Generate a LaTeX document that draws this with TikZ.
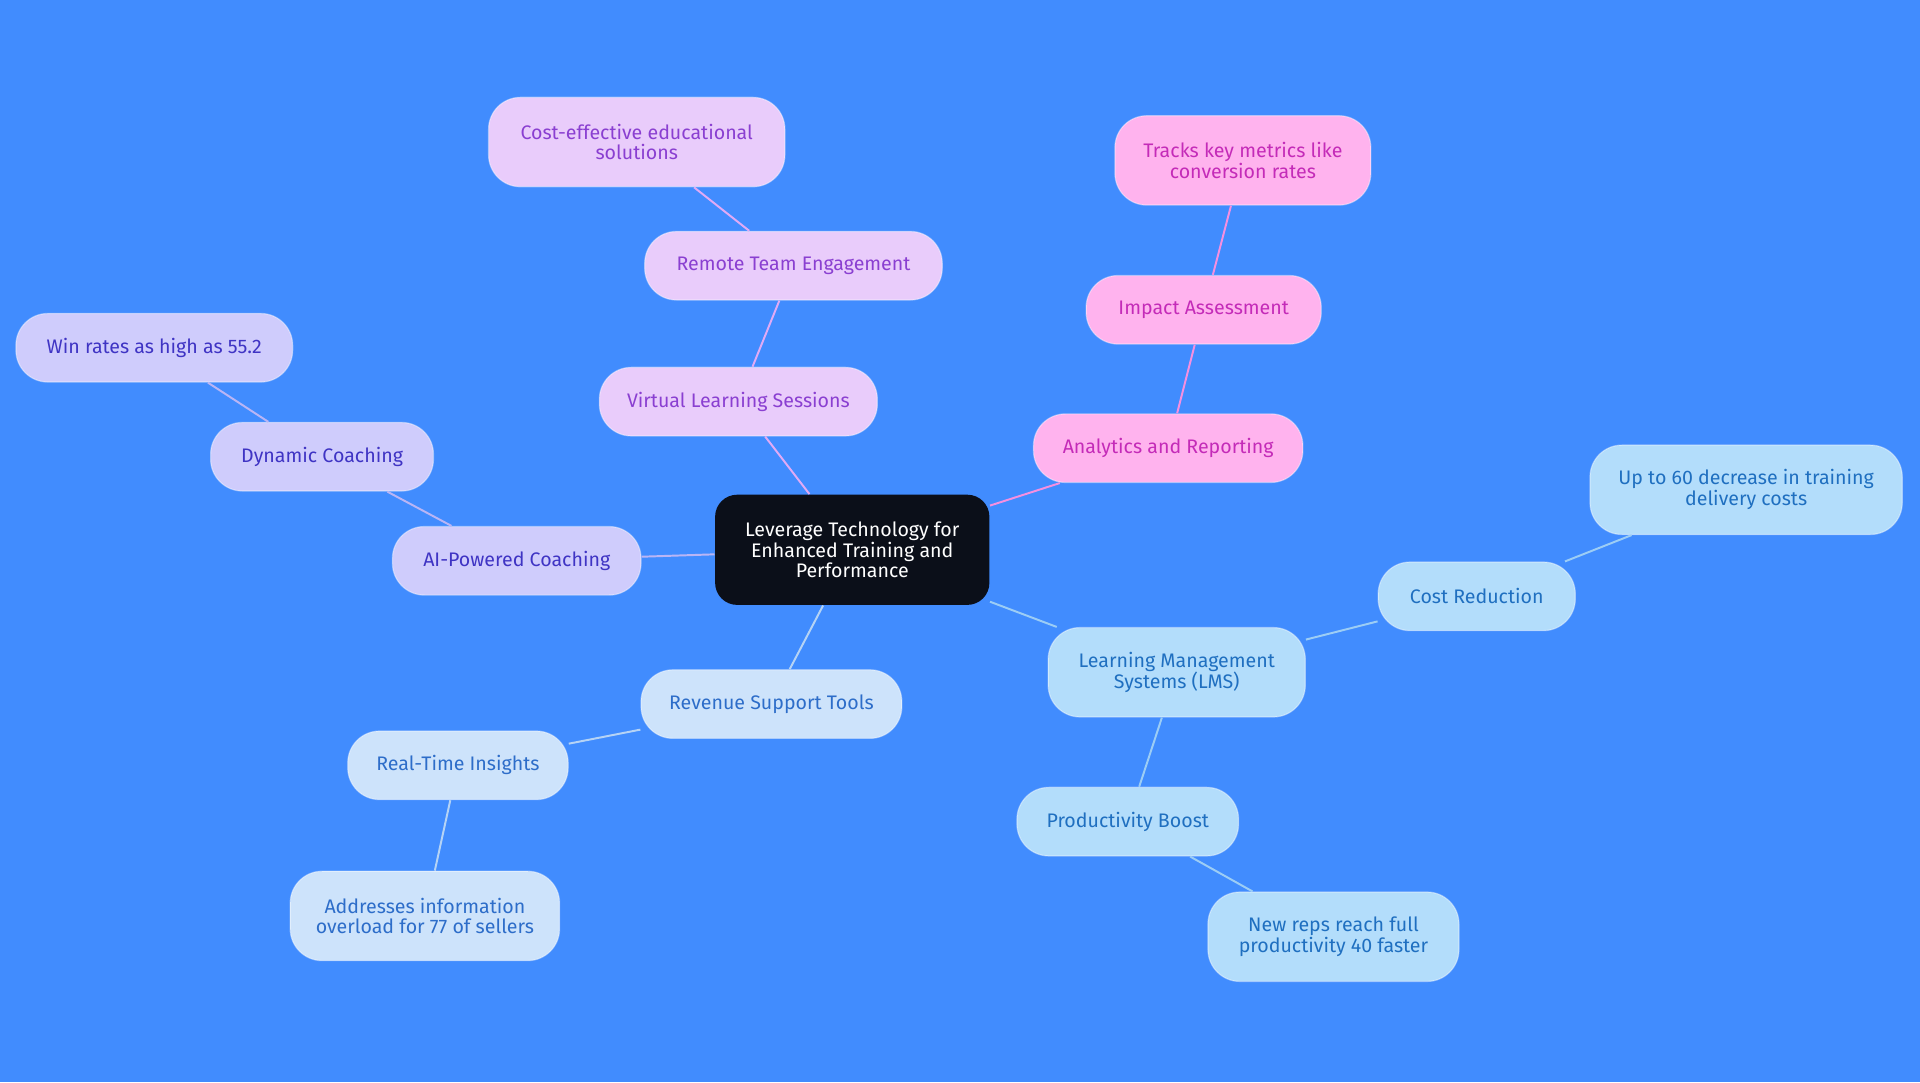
\documentclass[tikz,border=0pt]{standalone}
\usepackage{fontspec}
\setmainfont{Fira Sans}
\definecolor{bg}{HTML}{418CFE}
\definecolor{pF}{HTML}{E9CCFB}\definecolor{pT}{HTML}{8A3FD1}\definecolor{pE}{HTML}{E0AAF5}
\definecolor{kF}{HTML}{FFB3EE}\definecolor{kT}{HTML}{C42BB8}\definecolor{kE}{HTML}{F58FE0}
\definecolor{lF}{HTML}{CFCCFC}\definecolor{lT}{HTML}{3F34C4}\definecolor{lE}{HTML}{B9B5F5}
\definecolor{bF}{HTML}{B3DDFB}\definecolor{bT}{HTML}{1F6FC0}\definecolor{bE}{HTML}{9CCDF5}
\definecolor{cF}{HTML}{CDE3FB}\definecolor{cT}{HTML}{2D6DC9}\definecolor{cE}{HTML}{B5D3F5}
\definecolor{ctr}{HTML}{0B0F19}
\tikzset{
 n/.style={rounded corners=26pt,draw=white,draw opacity=0.4,line width=1pt,align=center,font=\fontsize{16}{17}\selectfont,inner sep=0pt},
 P/.style={n,fill=pF,text=pT},K/.style={n,fill=kF,text=kT},L/.style={n,fill=lF,text=lT},
 B/.style={n,fill=bF,text=bT},C/.style={n,fill=cF,text=cT},
 e/.style={line width=1.6pt}
}
\begin{document}
\begin{tikzpicture}[x=1pt,y=-1pt]
\fill[bg] (0,0) rectangle (1568,884);
\useasboundingbox (0,0) rectangle (1568,884);
\newcommand\nd[6]{\node[#1,minimum width=#4pt,minimum height=#5pt] (#6) at (#2,#3) {#6text};}
\node[n,fill=ctr,text=white,rounded corners=18pt,minimum width=224pt,minimum height=90pt,draw=none] (c) at (696,449) {Leverage Technology for\\Enhanced Training and\\Performance};
\node[P,minimum width=227pt,minimum height=56pt] (v) at (603,328) {Virtual Learning Sessions};
\node[P,minimum width=243pt,minimum height=56pt] (r) at (648,217) {Remote Team Engagement};
\node[P,minimum width=242pt,minimum height=73pt] (ce) at (520,116) {Cost-effective educational\\solutions};
\node[K,minimum width=220pt,minimum height=56pt] (a) at (954,366) {Analytics and Reporting};
\node[K,minimum width=192pt,minimum height=56pt] (i) at (983,253) {Impact Assessment};
\node[K,minimum width=209pt,minimum height=73pt] (t) at (1015,131) {Tracks key metrics like\\conversion rates};
\node[L,minimum width=203pt,minimum height=56pt] (ai) at (422,458) {AI-Powered Coaching};
\node[L,minimum width=182pt,minimum height=56pt] (d) at (263,373) {Dynamic Coaching};
\node[L,minimum width=226pt,minimum height=56pt] (w) at (126,284) {Win rates as high as 55.2};
\node[C,minimum width=213pt,minimum height=56pt] (rv) at (630,575) {Revenue Support Tools};
\node[C,minimum width=180pt,minimum height=56pt] (rt) at (374,625) {Real-Time Insights};
\node[C,minimum width=220pt,minimum height=73pt] (ad) at (347,748) {Addresses information\\overload for 77 of sellers};
\node[B,minimum width=210pt,minimum height=73pt] (lms) at (961,549) {Learning Management\\Systems (LMS)};
\node[B,minimum width=161pt,minimum height=56pt] (cr) at (1206,487) {Cost Reduction};
\node[B,minimum width=255pt,minimum height=73pt] (up) at (1426,400) {Up to 60 decrease in training\\delivery costs};
\node[B,minimum width=181pt,minimum height=56pt] (pb) at (921,671) {Productivity Boost};
\node[B,minimum width=205pt,minimum height=73pt] (nr) at (1089,765) {New reps reach full\\productivity 40 faster};
\begin{scope}[on background layer/.try]
\end{scope}
\draw[e,pE] (c) -- (v); \draw[e,pE] (v) -- (r); \draw[e,pE] (r) -- (ce);
\draw[e,kE] (c) -- (a); \draw[e,kE] (a) -- (i); \draw[e,kE] (i) -- (t);
\draw[e,lE] (c) -- (ai); \draw[e,lE] (ai) -- (d); \draw[e,lE] (d) -- (w);
\draw[e,cE] (c) -- (rv); \draw[e,cE] (rv) -- (rt); \draw[e,cE] (rt) -- (ad);
\draw[e,bE] (c) -- (lms); \draw[e,bE] (lms) -- (cr); \draw[e,bE] (cr) -- (up);
\draw[e,bE] (lms) -- (pb); \draw[e,bE] (pb) -- (nr);
\end{tikzpicture}
\end{document}
